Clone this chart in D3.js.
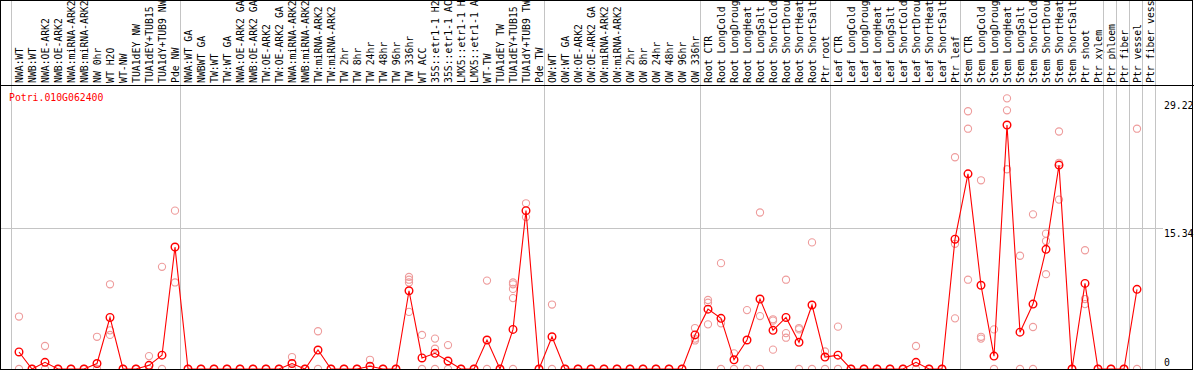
<!DOCTYPE html>
<html>
<head>
<meta charset="utf-8">
<script src="https://cdn.jsdelivr.net/npm/d3@7"></script>
<style>
  body { margin: 0; background: white; }
  svg { display: block; }
  text { font-family: "DejaVu Sans Mono", monospace; font-size: 9.8px; }
</style>
</head>
<body>
<div class="chart"></div>
<script>
const gene = 'Potri.010G062400';

const samples = [
  'NWA:WT', 'NWB:WT', 'NWA:OE-ARK2', 'NWB:OE-ARK2', 'NWA:miRNA-ARK2', 'NWB:miRNA-ARK2', 'NW 0hr', 'WT H2O', 'WT-NW',
  'TUA1dEY NW', 'TUA1dEY+TUB15 NW', 'TUA1dY+TUB9 NW', 'Pde NW',
  'NWA:WT GA', 'NWBWT GA', 'TW:WT', 'TW:WT GA', 'NWA:OE-ARK2 GA', 'NWB:OE-ARK2 GA', 'TW:OE-ARK2', 'TW:OE-ARK2 GA',
  'NWA:miRNA-ARK2 GA', 'NWB:miRNA-ARK2 GA', 'TW:miRNA-ARK2', 'TW:miRNA-ARK2 GA', 'TW 2hr', 'TW 8hr', 'TW 24hr', 'TW 48hr',
  'TW 96hr', 'TW 336hr', 'WT ACC', '35S::etr1-1 H2O', '35S::etr1-1 ACC', 'LMX5::etr1-1 H2O', 'LMX5::etr1-1 ACC', 'WT-TW',
  'TUA1dEY TW', 'TUA1dEY+TUB15 TW', 'TUA1dY+TUB9 TW', 'Pde TW',
  'OW:WT', 'OW:WT GA', 'OW:OE-ARK2', 'OW:OE-ARK2 GA', 'OW:miRNA-ARK2', 'OW:miRNA-ARK2 GA', 'OW 2hr', 'OW 8hr', 'OW 24hr',
  'OW 48hr', 'OW 96hr', 'OW 336hr',
  'Root CTR', 'Root LongCold', 'Root LongDrought', 'Root LongHeat', 'Root LongSalt', 'Root ShortCold', 'Root ShortDrought',
  'Root ShortHeat', 'Root ShortSalt', 'Ptr root',
  'Leaf CTR', 'Leaf LongCold', 'Leaf LongDrought', 'Leaf LongHeat', 'Leaf LongSalt', 'Leaf ShortCold', 'Leaf ShortDrought',
  'Leaf ShortHeat', 'Leaf ShortSalt', 'Ptr leaf',
  'Stem CTR', 'Stem LongCold', 'Stem LongDrought', 'Stem LongHeat', 'Stem LongSalt', 'Stem ShortCold', 'Stem ShortDrought',
  'Stem ShortHeat', 'Stem ShortSalt', 'Ptr shoot', 'Ptr xylem',
  'Ptr phloem', 'Ptr fiber', 'Ptr vessel', 'Ptr fiber vessel'
];

// group separators (index of first sample after each vertical line)
const separators = [0, 13, 41, 53, 63, 73, 84, 85, 86, 87, 88];

const means = [
  1.85, 0, 0.72, 0, 0, 0, 0.6, 5.6, 0, 0, 0.4, 1.5, 13.25,
  0, 0, 0, 0, 0, 0, 0, 0, 0.6, 0, 2.06, 0, 0, 0, 0.3, 0, 0, 8.5, 1.2, 1.7, 0.87, 0, 0, 3.15, 0, 4.3, 17.2,
  0, 3.5, 0, 0, 0, 0, 0, 0, 0, 0, 0, 0,
  3.7, 6.5, 5.5, 1.0, 3.15, 7.6, 4.2, 5.6, 2.9, 6.95,
  1.3, 1.5, 0, 0, 0, 0, 0, 0.72, 0, 0,
  14.1, 21.2, 9.1, 1.4, 26.5, 4.0, 7.05, 13.0, 22.15, 0, 9.3,
  0, 0, 0, 8.65
];

const replicates = [
  [5.7, 0], [0, 0], [2.5, 0], [0, 0], [0, 0], [0, 0], [3.5, 0], [9.2, 4.2, 3.7], [0, 0], [0, 0], [1.4, 0], [11.1, 0], [17.2, 9.4],
  [0, 0], [0, 0], [0, 0], [0, 0], [0, 0], [0, 0], [0, 0], [0, 0], [1.3, 0], [0, 0], [4.1, 0], [0, 0], [0, 0], [0, 0],
  [1.0, 0], [0, 0], [0, 0], [10.0, 9.7, 9.4, 6.2], [3.7, 0], [3.3, 2.2, 0], [2.6, 0], [0, 0], [0, 0], [9.6, 0], [0, 0],
  [9.4, 9.2, 8.7, 7.7, 0], [18.0, 16.5],
  [0, 0], [7.0, 0], [0, 0], [0, 0], [0, 0], [0, 0], [0, 0], [0, 0], [0, 0], [0, 0], [0, 0], [0, 0],
  [4.45, 3.3, 3.1], [7.5, 7.2, 4.85], [11.5, 4.96, 0], [1.7, 0], [6.4, 0], [17.0, 5.75, 0], [5.4, 5.25, 2.1],
  [9.7, 3.9, 3.4], [4.45, 4.3, 0], [13.75, 0],
  [1.9, 0], [4.6, 0], [0, 0], [0, 0], [0, 0], [0, 0], [0, 0], [2.5, 0], [0, 0], [0, 0],
  [23.0, 13.6, 5.5], [28.0, 26.1, 9.7], [20.5, 3.5, 3.3], [4.3, 0], [29.4, 28.1, 21.7], [12.3, 0], [16.8, 4.56, 0],
  [14.7, 13.9, 10.3], [25.8, 22.4, 18.4], [0, 0], [12.9, 7.6, 7.05],
  [0, 0], [0, 0], [0, 0], [26.1, 0]
];

const yTicks = [0, 15.34, 29.22];
const yGrid = [15.34];

const w = 1194;
const h = 370;

const svg = d3.select('.chart').append('svg').attr('width', w).attr('height', h);

const xScale = d3.scaleLinear().domain([0, samples.length - 1]).range([19, 19 + 13 * (samples.length - 1)]);
const yScale = d3.scaleLinear().domain([0, 29.22]).range([369, 100]);

// sample labels, rotated
svg.append('g').selectAll('text').data(samples).enter().append('text')
  .attr('transform', (d, i) => `translate(${xScale(i) + 3.5}, 83) rotate(-90)`)
  .attr('fill', 'black')
  .text(d => d);

// grid
svg.append('g').selectAll('line').data(separators).enter().append('line')
  .attr('x1', d => xScale(d) - 8 + 0.5).attr('x2', d => xScale(d) - 8 + 0.5)
  .attr('y1', 0).attr('y2', 369)
  .attr('stroke', '#c4c4c4').attr('stroke-width', 1);

svg.append('g').selectAll('line').data(yGrid).enter().append('line')
  .attr('x1', 1).attr('x2', 1163)
  .attr('y1', d => Math.round(yScale(d)) + 0.5).attr('y2', d => Math.round(yScale(d)) + 0.5)
  .attr('stroke', '#c4c4c4').attr('stroke-width', 1);

// y tick labels on the right
svg.append('g').selectAll('text').data(yTicks).enter().append('text')
  .attr('x', 1164)
  .attr('y', d => d === 0 ? yScale(d) - 3 : yScale(d) + 9)
  .attr('fill', 'black')
  .text(d => d === 0 ? '0' : d.toFixed(2));

// replicates
const reps = [];
replicates.forEach((r, i) => r.forEach(v => reps.push([i, v])));
svg.append('g').selectAll('circle').data(reps).enter().append('circle')
  .attr('cx', d => xScale(d[0])).attr('cy', d => yScale(d[1])).attr('r', 3.6)
  .attr('fill', 'none').attr('stroke', '#ee9c9c').attr('stroke-width', 1.1);

// mean line
const line = d3.line().x((d, i) => xScale(i)).y(d => yScale(d));
svg.append('path').datum(means).attr('d', line)
  .attr('fill', 'none').attr('stroke', '#ff0000').attr('stroke-width', 1.1);

svg.append('g').selectAll('circle').data(means).enter().append('circle')
  .attr('cx', (d, i) => xScale(i)).attr('cy', d => yScale(d)).attr('r', 3.8)
  .attr('fill', 'none').attr('stroke', '#ff0000').attr('stroke-width', 1.4);

// frame
svg.append('line').attr('x1', 0).attr('x2', w).attr('y1', 85.5).attr('y2', 85.5).attr('stroke', 'black');
svg.append('rect').attr('x', 0.5).attr('y', 0.5).attr('width', 1192).attr('height', 369)
  .attr('fill', 'none').attr('stroke', 'black').attr('stroke-width', 1);

svg.append('text').attr('x', 9).attr('y', 101).attr('fill', '#ff0000').text(gene);
</script>
</body>
</html>
